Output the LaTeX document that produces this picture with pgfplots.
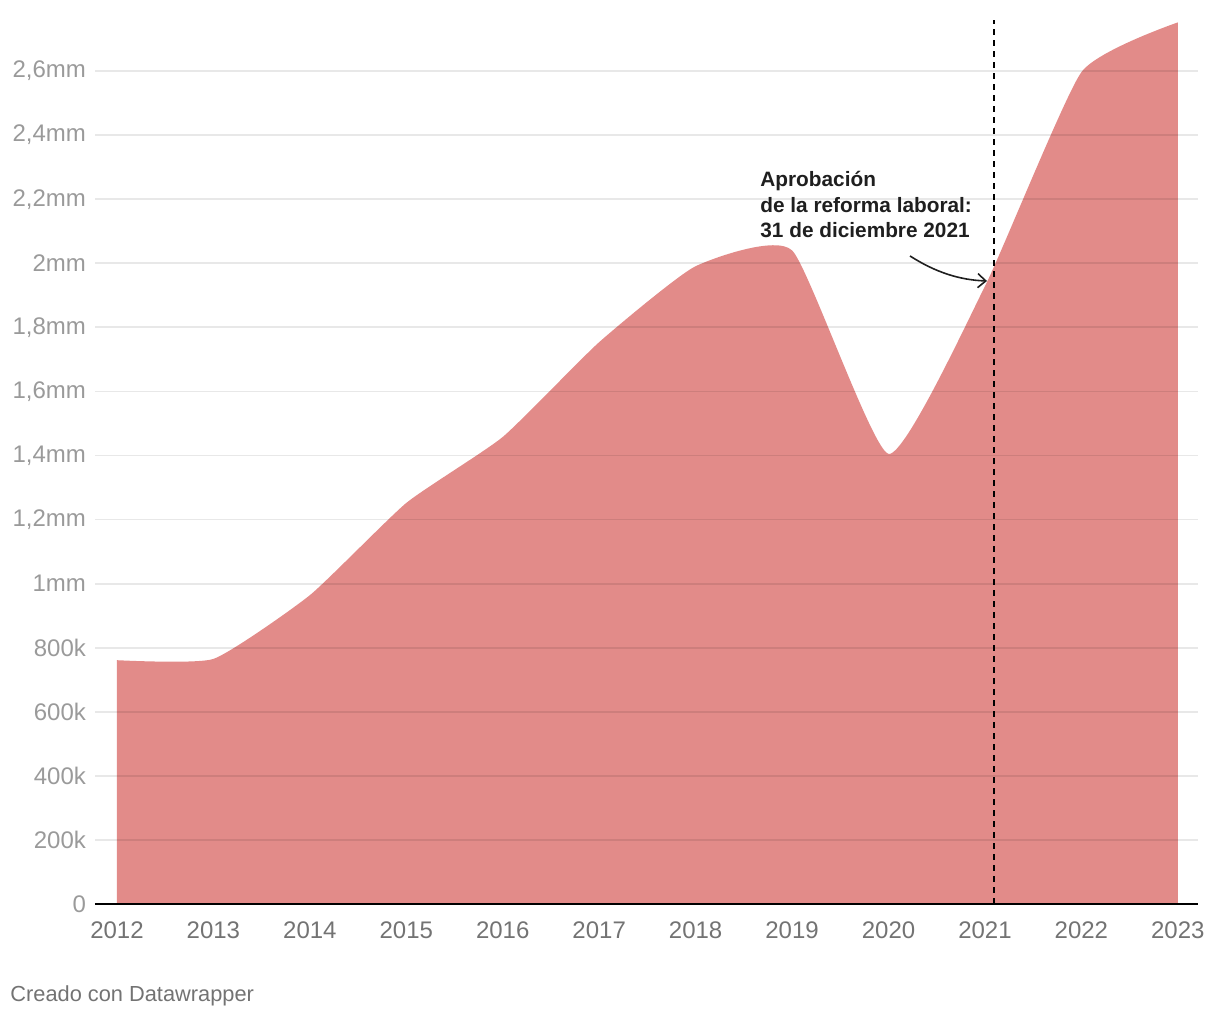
\documentclass[border=0pt]{standalone}
\usepackage{pgfplots}
\pgfplotsset{compat=1.18}
\usepackage{fontspec}
\setmainfont{Liberation Sans}
\usetikzlibrary{arrows.meta}
\definecolor{areafill}{HTML}{E28B89}
\definecolor{ylab}{HTML}{9A9A9A}
\definecolor{xlab}{HTML}{737373}
\begin{document}
\begin{tikzpicture}
\path[use as bounding box] (-47.5pt,-58pt) rectangle (562.5pt,452pt);
\begin{axis}[
  at={(0,0)}, anchor=south west,
  scale only axis,
  width=551.5pt, height=448.5pt,
  xmin=2011.772, xmax=2023.208,
  ymin=0, ymax=2800000,
  axis line style={draw=none},
  axis on top,
  xtick={2012,...,2023},
  xticklabels={2012,2013,2014,2015,2016,2017,2018,2019,2020,2021,2022,2023},
  ytick={0,200000,...,2600000},
  yticklabels={0,200k,400k,600k,800k,1mm,{1,2mm},{1,4mm},{1,6mm},{1,8mm},2mm,{2,2mm},{2,4mm},{2,6mm}},
  scaled y ticks=false,
  major tick length=0pt,
  ymajorgrids,
  grid style={black, line width=0.9pt, opacity=0.09},
  yticklabel style={font=\fontsize{12}{14}\selectfont, text=ylab, anchor=east, xshift=-1pt},
  xticklabel style={font=\fontsize{12}{14}\selectfont, text=xlab, yshift=-5.5pt},
  /pgf/number format/assume math mode=true,
  clip=false,
]
\addplot[draw=none, fill=areafill, smooth, tension=0.3] coordinates {
  (2012, 761000)
  (2013, 765000)
  (2014, 964000)
  (2015, 1252000)
  (2016, 1458000)
  (2017, 1754000)
  (2018, 1991000)
  (2019, 2040000)
  (2020, 1405000)
  (2021, 1929000)
  (2022, 2597000)
  (2023, 2752000)
} \closedcycle;
\draw[black, line width=0.9pt] (axis cs:2011.772,0) -- (axis cs:2023.208,0);
\draw[black, line width=0.9pt, dash pattern=on 3pt off 2.5pt] (axis cs:2021.09,0) -- (axis cs:2021.09,2759000);
\end{axis}
\node[anchor=north west, align=left, inner sep=0pt, text=black!88,
  font=\fontsize{10.4}{12.75}\selectfont\bfseries] at (332.5pt,366.5pt)
  {Aprobación\\de la reforma laboral:\\31 de diciembre 2021};
\draw[black!88, line width=0.8pt, -{Straight Barb[length=4pt,width=7pt]}]
  (407.5pt,324pt) .. controls (420pt,316pt) and (432pt,312pt) .. (446pt,311.5pt);
\node[anchor=west, inner sep=0pt, text=xlab, font=\fontsize{10.9}{13}\selectfont] at (-42.5pt,-46pt) {Creado con Datawrapper};
\end{tikzpicture}
\end{document}
